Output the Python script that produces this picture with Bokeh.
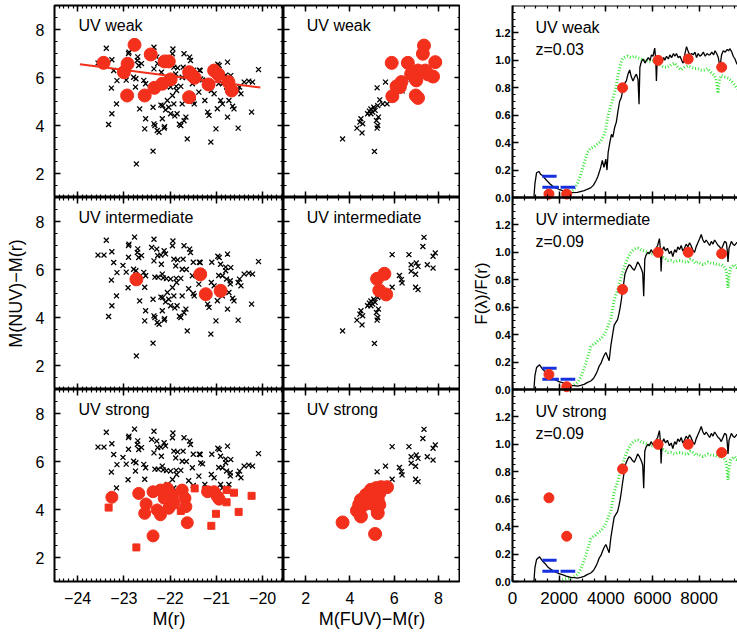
import numpy as np
from bokeh.plotting import figure
from bokeh.layouts import row, column
from bokeh.models import (FixedTicker, LinearAxis, Label, CustomJSTickFormatter, Range1d)
from bokeh.embed import file_html
from bokeh.resources import INLINE

FONT = "Liberation Sans"
RED = "#f3301c"
GREEN = "#3ce63c"
BLUE = "#1430e0"

# ---------------- data: parent sample, M(r) vs M(NUV)-M(r) ----------------
mr = [-23.38, -23.26, -23.27, -23.26, -23.33, -23.16, -23.22, -23.15, -22.89, -22.71,
      -22.68, -22.79, -22.75, -22.66, -22.73, -22.53, -22.57, -22.53, -22.55, -22.35,
      -22.29, -22.35, -22.37, -22.35, -22.28, -22.24, -22.37, -22.13, -22.19, -22.17,
      -22.16, -22.17, -22.13, -22.06, -22.03, -21.99, -21.94, -21.95, -21.92, -21.88,
      -21.99, -21.95, -21.92, -21.85, -21.77, -21.86, -21.74, -21.70, -21.72, -21.74,
      -21.66, -21.63, -21.58, -21.56, -21.52, -21.48, -21.35, -21.34, -21.38, -21.25,
      -21.19, -21.16, -21.11, -21.05, -21.01, -21.12, -20.94, -20.91, -20.87, -20.91,
      -20.87, -20.76, -20.69, -20.70, -20.73, -20.76, -20.62, -20.53, -20.53, -20.47,
      -20.40, -20.22, -20.24, -20.09,
      -23.56, -23.43, -22.77, -22.90, -22.70, -22.62, -22.90, -23.02, -22.95, -22.74,
      -22.91, -22.55, -22.40, -22.27, -22.20, -22.10, -22.33, -22.26, -22.15, -22.08,
      -22.20, -22.10, -22.33, -22.12, -21.84, -21.37, -21.50, -21.30, -21.65, -21.87,
      -21.77, -21.60, -21.50, -21.90, -21.70, -21.80, -21.10, -20.97, -20.80, -20.95,
      -20.80, -20.78, -20.70, -20.50, -20.98, -20.65, -20.30]
nuvr = [7.22, 6.74, 5.56, 4.49, 4.04, 4.90, 6.29, 5.87, 7.06, 6.71,
        6.50, 6.01, 5.60, 4.69, 2.40, 5.74, 5.88, 4.28, 3.86, 7.26,
        6.85, 6.36, 4.76, 4.07, 3.79, 3.72, 2.93, 6.78, 6.22, 5.81,
        4.83, 4.28, 3.89, 5.04, 4.76, 4.49, 7.19, 6.99, 6.43, 6.15,
        5.60, 5.25, 4.90, 4.49, 4.00, 5.46, 4.90, 6.99, 6.43, 6.01,
        4.35, 3.44, 6.85, 6.71, 5.74, 4.90, 6.29, 5.94, 5.39, 5.04,
        4.56, 4.42, 5.46, 5.32, 3.86, 3.31, 6.50, 6.22, 5.74, 5.04,
        4.90, 6.64, 6.08, 5.53, 5.04, 4.35, 4.69, 5.46, 3.89, 5.32,
        5.81, 5.81, 4.56, 6.33,
        6.60, 6.60, 7.35, 7.00, 6.86, 6.58, 6.51, 6.17, 5.89, 5.95,
        5.24, 5.26, 6.92, 6.58, 6.60, 6.65, 5.68, 5.68, 5.65, 5.62,
        4.85, 4.65, 4.00, 3.95, 6.40, 6.30, 6.30, 5.90, 6.00, 5.63,
        5.63, 5.20, 5.00, 4.40, 4.20, 4.05, 6.30, 6.55, 6.10, 5.75,
        5.95, 5.60, 5.40, 5.60, 4.70, 4.80, 5.85]

# parent sample, M(FUV)-M(r) vs M(NUV)-M(r)
fuvr = [3.67, 5.11, 4.55, 4.32, 4.45, 4.58, 4.50, 5.23, 5.26, 5.20, 5.29, 4.95, 4.80,
        4.95, 5.08, 5.14, 5.26, 5.35, 5.48, 5.68, 5.23, 5.61, 4.88, 5.03,
        7.35, 7.30, 5.91, 6.67, 7.86, 7.76, 7.50, 7.76, 6.77, 7.00, 7.08, 6.77, 6.97,
        6.24, 6.33, 6.36, 5.91, 6.97, 7.08]
nuvr_m = [3.44, 2.92, 3.69, 3.89, 4.14, 4.07, 4.28, 3.89, 4.00, 4.21, 4.35, 4.49, 4.49,
          4.69, 4.76, 4.63, 4.83, 5.07, 4.90, 4.90, 5.57, 5.81, 4.60, 4.56,
          7.34, 6.96, 6.62, 6.62, 6.69, 6.55, 6.20, 6.06, 6.20, 6.27, 6.13, 5.93, 5.80,
          5.75, 5.58, 5.44, 5.26, 5.26, 5.16]

# UV weak (red) samples
weak_mr = [-23.44, -22.92, -23.00, -22.77, -22.93, -22.55, -22.42, -22.12, -22.03, -22.34,
           -22.17, -21.99, -21.59, -21.52, -21.47, -21.59, -21.17, -21.05, -20.96, -20.74, -20.67]
weak_nuvr = [6.61, 6.57, 6.22, 7.36, 5.25, 5.25, 6.96, 6.67, 6.67, 5.57,
             5.74, 5.92, 6.22, 6.08, 5.99, 5.18, 5.71, 6.29, 6.13, 5.81, 5.46]
fit_mr = [-23.95, -20.05]
fit_nuvr = [6.55, 5.58]
weak_fuvr = [5.89, 6.62, 7.35, 7.30, 7.86, 7.76, 7.41, 6.92, 7.08, 6.77, 7.00, 6.33,
             6.26, 6.11, 5.92, 6.98, 7.08, 7.53]
weak_nuvr_m = [6.61, 6.61, 7.33, 6.99, 6.64, 6.04, 6.29, 6.22, 6.29, 6.15, 5.88, 5.81,
               5.60, 5.63, 5.22, 5.25, 5.15, 6.13]

# UV intermediate
int_mr = [-22.73, -21.35, -21.23, -20.91]
int_nuvr = [5.59, 5.80, 4.97, 5.11]
int_fuvr = [5.56, 5.23, 5.33, 5.64]
int_nuvr_m = [5.82, 5.61, 5.13, 4.96]

# UV strong
str_mr = [-23.26, -22.68, -22.52, -22.55, -22.37, -22.21, -22.06, -21.99, -22.13, -22.28,
          -22.21, -22.03, -21.92, -21.95, -21.74, -21.68, -21.66, -21.63, -22.37, -21.19,
          -21.05, -20.98, -20.94]
str_nuvr = [4.51, 4.67, 4.23, 3.84, 4.74, 4.81, 4.88, 4.67, 4.47, 3.98,
            3.78, 4.05, 4.26, 4.54, 4.81, 4.47, 4.12, 3.45, 2.90, 4.74,
            4.74, 4.54, 4.43]
sq_mr = [-23.33, -22.73, -21.47, -21.23, -20.78, -20.62, -20.78, -21.01, -21.11, -20.52,
         -20.24, -21.77]
sq_nuvr = [4.08, 2.42, 4.88, 4.81, 4.81, 4.70, 4.30, 3.82, 3.32, 3.90, 4.57, 3.94]
str_fuvr = [3.67, 5.14, 4.50, 4.32, 4.42, 4.58, 4.50, 4.83, 4.73, 4.95, 5.18, 5.41, 5.68,
            5.26, 5.23, 5.26, 5.33, 5.03, 5.33, 4.88]
str_nuvr_m = [3.46, 2.98, 3.71, 3.95, 4.20, 4.16, 4.40, 4.54, 4.61, 4.82, 4.89, 4.93, 4.93,
              4.40, 4.06, 3.85, 4.20, 4.61, 4.68, 4.27]

# ---------------- spectra ----------------
lam_a = [918, 960, 1030, 1130, 1200, 1280, 1380, 1490, 1600, 1700, 1850, 1990, 2150, 2350,
         2550, 2780, 2950, 3070, 3200, 3350, 3470, 3570, 3650, 3710, 3780, 3850, 3920, 4000,
         4050, 4100, 4180, 4240, 4300, 4377, 4450, 4520, 4590, 4663, 4735, 4800, 4878, 4950,
         5022, 5090, 5165, 5240, 5308, 5380, 5423, 5460, 5523, 5600, 5680, 5738, 5820, 5900,
         5953, 6020, 6096, 6140, 6168, 6200, 6240, 6320, 6400, 6480, 6527, 6600, 6680, 6742,
         6820, 6900, 6960, 7028, 7100, 7180, 7250, 7315, 7380, 7458, 7540, 7600, 7680, 7745,
         7820, 7888, 7960, 8030, 8103, 8180, 8260, 8340, 8400, 8462, 8540, 8620, 8680, 8749,
         8820, 8892, 8960, 9035, 9120, 9200, 9260, 9322, 9400, 9460, 9537, 9600, 9680]
flux_a = [0.0, 0.10, 0.18, 0.19, 0.17, 0.16, 0.14, 0.12, 0.10, 0.085, 0.07, 0.06, 0.05, 0.04,
          0.035, 0.037, 0.045, 0.05, 0.06, 0.07, 0.09, 0.12, 0.15, 0.18, 0.22, 0.27, 0.22, 0.28,
          0.20, 0.33, 0.41, 0.46, 0.44, 0.51, 0.55, 0.63, 0.70, 0.73, 0.79, 0.83, 0.85, 0.90,
          0.93, 0.88, 0.85, 0.88, 0.90, 0.86, 0.68, 0.95, 0.99, 1.01, 0.98, 1.00, 1.02, 1.00,
          1.04, 1.03, 1.09, 1.00, 0.85, 1.00, 1.01, 1.03, 0.99, 1.02, 1.00, 1.03, 1.01, 1.04,
          1.02, 1.05, 1.03, 1.05, 1.02, 1.03, 1.00, 0.98, 1.04, 1.10, 1.06, 1.04, 1.05, 1.04,
          1.06, 1.02, 1.05, 1.03, 1.04, 1.06, 1.03, 1.05, 1.04, 1.04, 1.06, 1.04, 1.07, 1.05,
          1.02, 0.95, 1.04, 1.07, 1.06, 1.08, 1.07, 1.085, 1.06, 1.03, 1.01, 0.98, 0.96]
lam_ga = [2100, 2208, 2350, 2500, 2638, 2780, 2925, 3070, 3211, 3350, 3498, 3640, 3785, 3928,
          4000, 4072, 4180, 4287, 4360, 4430, 4500, 4573, 4640, 4717, 4800, 4932, 5080, 5222,
          5360, 5508, 5650, 5795, 5940, 6082, 6220, 6368, 6510, 6655, 6800, 6942, 7085, 7228,
          7370, 7515, 7660, 7802, 7945, 8088, 8230, 8375, 8520, 8662, 8740, 8805, 8870, 8949,
          9090, 9236, 9380, 9522, 9600, 9665]
flux_ga = [0.02, 0.02, 0.025, 0.04, 0.06, 0.10, 0.17, 0.25, 0.33, 0.36, 0.37, 0.39, 0.41, 0.46,
           0.50, 0.58, 0.65, 0.71, 0.76, 0.80, 0.87, 0.93, 0.98, 1.01, 1.02, 1.03, 1.02, 1.03,
           1.02, 1.01, 1.00, 1.00, 0.99, 1.00, 0.98, 0.96, 0.95, 0.95, 0.97, 0.98, 0.95, 0.93,
           0.95, 0.96, 0.95, 0.94, 0.94, 0.93, 0.93, 0.94, 0.91, 0.89, 0.85, 0.76, 0.86, 0.89,
           0.88, 0.87, 0.85, 0.82, 0.80, 0.79]

lam_b = [918, 960, 1030, 1160, 1280, 1400, 1491, 1630, 1778, 1950, 2136, 2300, 2495, 2650,
         2781, 2920, 3068, 3200, 3355, 3470, 3570, 3650, 3713, 3790, 3857, 3930, 4000, 4070,
         4143, 4215, 4290, 4358, 4430, 4502, 4560, 4616, 4670, 4717, 4770, 4817, 4880, 4932,
         5000, 5075, 5150, 5222, 5300, 5365, 5440, 5520, 5580, 5623, 5670, 5723, 5800, 5870,
         5939, 6010, 6082, 6150, 6220, 6297, 6340, 6368, 6410, 6483, 6560, 6640, 6727, 6800,
         6870, 6950, 7020, 7085, 7160, 7230, 7300, 7372, 7440, 7520, 7587, 7650, 7720, 7802,
         7870, 7945, 8020, 8088, 8160, 8230, 8300, 8375, 8450, 8520, 8590, 8662, 8740, 8810,
         8880, 8949, 9020, 9090, 9165, 9200, 9236, 9280, 9379, 9450, 9520, 9600, 9665]
flux_b = [0.0, 0.10, 0.16, 0.18, 0.15, 0.13, 0.11, 0.09, 0.075, 0.06, 0.05, 0.04, 0.03, 0.028,
          0.025, 0.03, 0.037, 0.05, 0.062, 0.08, 0.11, 0.14, 0.17, 0.19, 0.22, 0.25, 0.27, 0.24,
          0.21, 0.32, 0.40, 0.47, 0.49, 0.51, 0.55, 0.60, 0.66, 0.72, 0.78, 0.84, 0.87, 0.89,
          0.91, 0.90, 0.88, 0.87, 0.90, 0.93, 0.91, 0.88, 0.85, 0.68, 0.95, 0.98, 1.00, 0.99,
          1.02, 1.00, 0.99, 1.03, 1.05, 1.10, 1.02, 0.86, 1.01, 1.04, 1.01, 1.03, 0.99, 1.01,
          0.97, 1.02, 1.00, 1.04, 1.02, 1.05, 1.01, 1.03, 1.06, 1.04, 1.07, 1.05, 1.02, 1.00,
          1.04, 1.07, 1.10, 1.13, 1.09, 1.07, 1.09, 1.07, 1.05, 1.08, 1.06, 1.09, 1.07, 1.05,
          1.04, 1.02, 1.05, 1.08, 1.07, 1.02, 0.93, 1.03, 1.08, 1.06, 1.05, 1.07, 1.07]
lam_gb = [2136, 2300, 2495, 2640, 2781, 2920, 3068, 3210, 3355, 3460, 3570, 3680, 3785, 3890,
          4000, 4110, 4215, 4290, 4358, 4430, 4502, 4570, 4645, 4750, 4860, 4970, 5075, 5180,
          5294, 5400, 5508, 5650, 5795, 5940, 6082, 6220, 6368, 6510, 6655, 6800, 6942, 7085,
          7228, 7370, 7515, 7620, 7730, 7840, 7945, 8050, 8160, 8270, 8375, 8520, 8662, 8800,
          8949, 9060, 9165, 9200, 9236, 9280, 9350, 9440, 9522, 9600, 9665]
flux_gb = [0.012, 0.02, 0.025, 0.035, 0.05, 0.09, 0.15, 0.23, 0.31, 0.33, 0.34, 0.36, 0.37, 0.39,
           0.42, 0.47, 0.52, 0.59, 0.65, 0.69, 0.72, 0.77, 0.81, 0.87, 0.93, 0.97, 1.00, 1.02,
           1.03, 1.03, 1.02, 1.01, 1.00, 0.99, 0.99, 0.98, 0.97, 0.96, 0.94, 0.94, 0.93, 0.94,
           0.94, 0.93, 0.93, 0.95, 0.94, 0.92, 0.93, 0.92, 0.91, 0.92, 0.93, 0.92, 0.92, 0.91,
           0.91, 0.90, 0.87, 0.80, 0.74, 0.82, 0.89, 0.90, 0.91, 0.89, 0.89]

phot_lam = [1562, 2323, 4717, 6240, 7530, 8964]
phot_weak = [0.025, 0.025, 0.80, 1.00, 1.01, 0.95]
phot_int = [0.11, 0.02, 0.73, 1.00, 1.00, 0.99]
phot_str = [0.61, 0.33, 0.82, 1.00, 1.00, 0.94]
fuv_err_str = 0.03
bar_x0 = [1280, 1280, 2060]
bar_x1 = [1890, 1990, 2690]
bar_y = [0.155, 0.075, 0.075]

# ticks
mr_ticks = [-24, -23, -22, -21, -20]
col_ticks = [2, 4, 6, 8]
lam_ticks = [0, 2000, 4000, 6000, 8000]
f_ticks = [0.0, 0.2, 0.4, 0.6, 0.8, 1.0, 1.2]

# ---------------- layout constants ----------------
LW, MW, RW = 283, 177, 277
TH, MH, BH = 197, 192, 245
XR_L = (-24.5, -19.55)
XR_M = (1.0, 9.0)
XR_R = (0, 9643)
YR_C = (1.0, 9.0)
FMAX = 1.4

minus_fmt = "return (tick < 0 ? '\u2212' : '') + Math.abs(tick).toString();"
# stacked right-hand panels share one axis: label each tick modulo the panel height
stack_fmt = "return ((Math.round(tick * 100) % 140) / 100).toFixed(1);"


def make_fig(xr, yr, w, h, left, bottom, top, outline=True):
    p = figure(width=w, height=h, x_range=Range1d(*xr), y_range=Range1d(*yr),
               output_backend="svg", toolbar_location=None,
               x_axis_location=None, y_axis_location=None,
               min_border_left=left, min_border_right=0,
               min_border_top=top, min_border_bottom=bottom)
    p.xgrid.visible = False
    p.ygrid.visible = False
    p.background_fill_color = "white"
    p.border_fill_color = "white"
    if outline:
        p.outline_line_color = "black"
        p.outline_line_width = 2
        p.outline_line_alpha = 1
    else:
        p.outline_line_color = None
    return p


def add_axis(p, side, ticks, minor, fixed=None, labels=False, fmt=None,
             font_size="16px", bold=False, standoff=8, axis_label=None,
             label_size="18px", label_standoff=5, line=False):
    ax = LinearAxis(ticker=FixedTicker(ticks=ticks, minor_ticks=minor))
    ax.major_tick_in = 6
    ax.major_tick_out = 0
    ax.minor_tick_in = 3
    ax.minor_tick_out = 0
    ax.major_tick_line_width = 1.5
    ax.minor_tick_line_width = 1.2
    ax.major_tick_line_color = "black"
    ax.minor_tick_line_color = "black"
    if line:
        ax.axis_line_color = "black"
        ax.axis_line_width = 2
    else:
        ax.axis_line_color = None
    if fixed is not None:
        ax.fixed_location = fixed
    if labels:
        ax.formatter = CustomJSTickFormatter(code=fmt)
        ax.major_label_text_font = FONT
        ax.major_label_text_font_size = font_size
        ax.major_label_text_color = "black"
        ax.major_label_text_font_style = "bold" if bold else "normal"
        ax.major_label_standoff = standoff
    else:
        ax.major_label_text_color = None
        ax.major_label_text_font_size = "0px"
    if axis_label:
        ax.axis_label = axis_label
        ax.axis_label_text_font = FONT
        ax.axis_label_text_font_size = label_size
        ax.axis_label_text_font_style = "normal"
        ax.axis_label_text_color = "black"
        ax.axis_label_standoff = label_standoff
    p.add_layout(ax, side)
    return ax


def add_text(p, x, y, text, size="16px", range_name=None):
    kw = {}
    if range_name is not None:
        kw["y_range_name"] = range_name
    p.add_layout(Label(x=x, y=y, text=text, text_font=FONT, text_font_size=size,
                       text_baseline="middle", text_align="left", text_color="black", **kw))


mr_minor = list(np.round(np.arange(-24.5, -19.5, 0.1), 2))
col_minor = list(np.arange(1.0, 9.01, 0.5))
lam_minor = list(np.arange(0, 9700, 500))
f_minor = list(np.round(np.arange(0, 1.41, 0.05), 2))

titles = ["UV weak", "UV intermediate", "UV strong"]
heights = [TH, MH, BH]
tops = [5, 0, 0]
bottoms = [0, 0, 53]

mr_arr = np.array(mr)
nuvr_arr = np.array(nuvr)
fuvr_arr = np.array(fuvr)
nuvr_m_arr = np.array(nuvr_m)

XSIZE = 7
XLW = 1.3

left_figs, mid_figs = [], []
for i in range(3):
    # ---------- left column ----------
    p = make_fig(XR_L, YR_C, LW, heights[i], 54, bottoms[i], tops[i])
    add_axis(p, "left", col_ticks, col_minor, labels=True, fmt=minus_fmt, font_size="16px",
             standoff=10, axis_label="M(NUV)\u2212M(r)" if i == 1 else None,
             label_size="18px", label_standoff=7)
    add_axis(p, "right", col_ticks, col_minor, fixed=XR_L[1])
    add_axis(p, "above", mr_ticks, mr_minor, fixed=YR_C[1])
    if i == 2:
        add_axis(p, "below", mr_ticks, mr_minor, labels=True, fmt=minus_fmt, font_size="16px",
                 standoff=10, axis_label="M(r)", label_size="18px", label_standoff=2)
    else:
        add_axis(p, "below", mr_ticks, mr_minor, fixed=YR_C[0])
    if i == 2:
        keep = nuvr_arr >= 4.87
        p.scatter(mr_arr[keep], nuvr_arr[keep], marker="x", size=XSIZE, line_color="black", line_width=XLW)
        p.scatter(sq_mr, sq_nuvr, marker="square", size=7, fill_color=RED, line_color=RED)
        p.scatter(str_mr, str_nuvr, marker="circle", size=12, fill_color=RED, line_color=RED)
    else:
        p.scatter(mr, nuvr, marker="x", size=XSIZE, line_color="black", line_width=XLW)
        if i == 0:
            p.scatter(weak_mr, weak_nuvr, marker="circle", size=13, fill_color=RED, line_color=RED)
            p.line(fit_mr, fit_nuvr, line_color=RED, line_width=2)
        else:
            p.scatter(int_mr, int_nuvr, marker="circle", size=13, fill_color=RED, line_color=RED)
    add_text(p, -23.98, 8.17, titles[i])
    left_figs.append(p)

    # ---------- middle column ----------
    q = make_fig(XR_M, YR_C, MW, heights[i], 0, bottoms[i], tops[i])
    add_axis(q, "left", col_ticks, col_minor, fixed=XR_M[0])
    add_axis(q, "right", col_ticks, col_minor, fixed=XR_M[1])
    add_axis(q, "above", col_ticks, col_minor, fixed=YR_C[1])
    if i == 2:
        add_axis(q, "below", col_ticks, col_minor, labels=True, fmt=minus_fmt, font_size="16px",
                 standoff=10, axis_label="M(FUV)\u2212M(r)", label_size="18px", label_standoff=2)
        keep = nuvr_m_arr >= 4.95
        q.scatter(fuvr_arr[keep], nuvr_m_arr[keep], marker="x", size=XSIZE, line_color="black", line_width=XLW)
        q.scatter(str_fuvr, str_nuvr_m, marker="circle", size=13, fill_color=RED, line_color=RED)
    else:
        add_axis(q, "below", col_ticks, col_minor, fixed=YR_C[0])
        q.scatter(fuvr, nuvr_m, marker="x", size=XSIZE, line_color="black", line_width=XLW)
        if i == 0:
            q.scatter(weak_fuvr, weak_nuvr_m, marker="circle", size=13, fill_color=RED, line_color=RED)
        else:
            q.scatter(int_fuvr, int_nuvr_m, marker="circle", size=13, fill_color=RED, line_color=RED)
    add_text(q, 2.05, 8.17, titles[i])
    mid_figs.append(q)

# ---------- right column: one figure, three stacked panels ----------
names = ["top", "mid", "bot"]
r = make_fig(XR_R, (0, 3 * FMAX), RW, TH + MH + BH, 52, 53, 5, outline=False)
r.extra_y_ranges = {names[i]: Range1d(-FMAX * (2 - i), FMAX * (1 + i)) for i in range(3)}

# horizontal frame lines with inward ticks (default range: panels stacked 0..4.2)
add_axis(r, "above", lam_ticks, lam_minor, fixed=3 * FMAX, line=True)
add_axis(r, "below", lam_ticks, lam_minor, fixed=2 * FMAX, line=True)
add_axis(r, "above", lam_ticks, lam_minor, fixed=2 * FMAX, line=True)
add_axis(r, "below", lam_ticks, lam_minor, fixed=FMAX, line=True)
add_axis(r, "above", lam_ticks, lam_minor, fixed=FMAX, line=True)
add_axis(r, "below", lam_ticks, lam_minor, labels=True, fmt=minus_fmt, font_size="17px",
         standoff=10, line=True)
r.add_layout(Label(x=5950, y=-0.285, text="\u03bb (A)", text_font=FONT,
                   text_font_size="18px", text_align="center", text_baseline="middle",
                   text_color="black"))

# one left axis for the three stacked panels (panel k occupies k*1.4 .. (k+1)*1.4)
stack_ticks = [round(t + FMAX * k, 2) for k in range(3) for t in f_ticks]
stack_minor = sorted(set(round(m + FMAX * k, 2) for k in range(3) for m in f_minor))
add_axis(r, "left", stack_ticks, stack_minor, labels=True, fmt=stack_fmt, font_size="11px",
         bold=True, standoff=2, axis_label="F(\u03bb)/F(r)", label_size="17px",
         label_standoff=1, line=True)

phots = [phot_weak, phot_int, phot_str]
for i in range(3):
    nm = names[i]
    if i == 0:
        r.line(lam_ga, flux_ga, line_color=GREEN, line_width=3, line_dash="1 2", y_range_name=nm)
        r.line(lam_a, flux_a, line_color="black", line_width=1.3, y_range_name=nm)
        zlab = "z=0.03"
    else:
        r.line(lam_gb, flux_gb, line_color=GREEN, line_width=3, line_dash="1 2", y_range_name=nm)
        r.line(lam_b, flux_b, line_color="black", line_width=1.3, y_range_name=nm)
        zlab = "z=0.09"
    phot = phots[i]
    r.segment(x0=bar_x0, y0=bar_y, x1=bar_x1, y1=bar_y, line_color=BLUE, line_width=3,
              y_range_name=nm)
    if i == 2:
        r.segment(x0=[phot_lam[0]], y0=[phot[0] - fuv_err_str], x1=[phot_lam[0]],
                  y1=[phot[0] + fuv_err_str], line_color=RED, line_width=2, y_range_name=nm)
    r.scatter(phot_lam, phot, marker="circle", size=10, fill_color=RED, line_color=RED,
              y_range_name=nm)
    add_text(r, 986, 1.24, titles[i], range_name=nm)
    add_text(r, 986, 1.077, zlab, range_name=nm)

layout = row(column(*left_figs), column(*mid_figs), r)

with open("out.html", "w", encoding="utf-8") as f:
    f.write(file_html(layout, INLINE))
